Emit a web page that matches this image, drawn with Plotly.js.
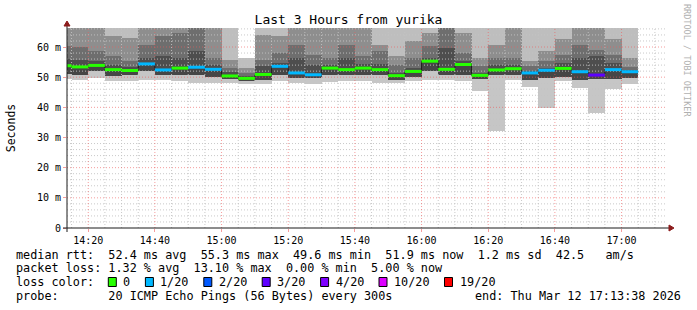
<!DOCTYPE html>
<html><head><meta charset="utf-8">
<script src="https://cdn.plot.ly/plotly-3.0.1.min.js"></script>
<style>html,body{margin:0;padding:0;background:#fff;} #chart{width:697px;height:310px;}</style>
</head><body><div id="chart"></div>
<script>
// ---- data ----
const endTimes = ["2026-03-12 14:15","2026-03-12 14:20","2026-03-12 14:25","2026-03-12 14:30","2026-03-12 14:35",
  "2026-03-12 14:40","2026-03-12 14:45","2026-03-12 14:50","2026-03-12 14:55","2026-03-12 15:00",
  "2026-03-12 15:05","2026-03-12 15:10","2026-03-12 15:15","2026-03-12 15:20","2026-03-12 15:25",
  "2026-03-12 15:30","2026-03-12 15:35","2026-03-12 15:40","2026-03-12 15:45","2026-03-12 15:50",
  "2026-03-12 15:55","2026-03-12 16:00","2026-03-12 16:05","2026-03-12 16:10","2026-03-12 16:15",
  "2026-03-12 16:20","2026-03-12 16:25","2026-03-12 16:30","2026-03-12 16:35","2026-03-12 16:40",
  "2026-03-12 16:45","2026-03-12 16:50","2026-03-12 16:55","2026-03-12 17:00","2026-03-12 17:05"];
const medianRtt = [53.8,53.4,53.9,52.5,52.2,54.4,52.4,53.0,53.3,52.6,50.4,49.6,50.9,53.6,51.4,50.8,53.0,52.5,53.0,52.5,
  50.5,51.9,55.3,52.6,54.2,50.6,52.4,52.8,51.4,52.3,52.9,51.8,50.7,52.5,51.8];
const lossPings = [0,0,0,0,0,1,1,0,1,1,0,0,0,1,1,1,0,0,0,0,0,0,0,0,0,0,0,0,1,1,0,1,2.62,1,1];
const pingMin = [49.3,49.2,49.7,48.8,48.6,49.2,49.2,48.8,48.1,48.1,48.1,47.7,47.8,48.6,48.1,47.8,48.4,48.6,48.8,48.1,
  48.1,48.6,49.2,49.2,48.8,45.5,32.2,49.2,46.9,39.9,48.6,46.4,38.2,46.1,47.7];
const pingQ1 = [51.0,50.8,51.9,50.3,50.8,51.9,50.8,50.8,50.8,50.2,49.4,48.8,49.2,50.8,49.7,49.7,50.8,50.8,50.8,50.8,
  49.2,49.9,52.0,50.8,50.8,49.4,50.8,50.8,49.2,49.7,49.9,49.2,49.4,49.4,49.7];
const pingQ3 = [56.0,55.8,55.3,54.2,53.3,56.4,56.9,56.4,58.6,54.2,51.6,50.3,53.6,54.7,56.4,54.2,54.2,56.4,54.4,54.4,
  51.4,53.0,56.4,59.7,55.3,51.4,54.2,54.2,52.2,53.1,54.7,56.4,56.9,54.7,52.4];
const pingQ4 = [60.5,59.9,58.6,56.9,55.3,60.8,63.6,64.7,70.0,56.4,53.0,51.4,55.8,58.0,60.8,57.5,56.4,60.8,56.9,58.6,
  54.2,56.4,60.2,70.0,58.0,53.6,56.4,56.4,53.6,55.5,57.5,60.8,59.1,57.5,53.3];
const pingQ5 = [72,72,72,63.6,63.0,72,72,72,75,72,55.8,53.0,64.1,63.6,72,72,72,72,72,60.8,
  56.9,61.9,64.7,75,64.7,56.4,60.8,72,55.3,58.6,62.5,72,72,62.5,56.4];
const pingMax = [80,80,80,80,80,80,80,80,80,80,80,56.4,80,80,80,80,80,80,80,80,
  80,80,80,80,80,80,80,80,80,80,80,80,80,80,80];

const yTickVals = [0,10,20,30,40,50,60];
const yTickText = ["0","10 m","20 m","30 m","40 m","50 m","60 m"];
const lossLevels = [0,1,2,3,4,10,19];
const lossLabels = ["0","1/20","2/20","3/20","4/20","10/20","19/20"];
const lossColors = ["#26ff00","#00b8ff","#0059ff","#5e00ff","#7e00ff","#dd00ff","#ff0000"];
const titleText = "Last 3 Hours from yurika";
const yTitle = "Seconds";
const statLine1 = "median rtt:  52.4 ms avg  55.3 ms max  49.6 ms min  51.9 ms now  1.2 ms sd  42.5   am/s";
const statLine2 = "packet loss: 1.32 % avg  13.10 % max  0.00 % min  5.00 % now";
const lossHead = "loss color:";
const probeLine = "probe:       20 ICMP Echo Pings (56 Bytes) every 300s";
const endLine = "end: Thu Mar 12 17:13:38 2026";
const sideText = "RRDTOOL / TOBI OETIKER";

// ---- geometry / style ----
const W = 697, H = 310, ML = 67, MR = 30, MT = 28, MB = 82;
const PW = W - ML - MR, PH = H - MT - MB;
const xStart = "2026-03-12 14:13:38", xEnd = "2026-03-12 17:13:38";
const yTop = 66.3;
const STEP = 300000;
const FONT = "DejaVu Sans Mono";
const px = x => (x - ML) / PW;
const py = y => (H - MB - y) / PH;
const nb = s => s.replace(/ /g, "\u00a0");
const toMs = s => { const m = s.match(/(\d+)-(\d+)-(\d+) (\d+):(\d+)(?::(\d+))?/);
  return Date.UTC(+m[1], +m[2]-1, +m[3], +m[4], +m[5], +(m[6]||0)); };

const traces = [];
// smoke bands
const bands = [
  [pingMin, pingQ1, "#c6c6c6"],
  [pingQ1, medianRtt, "#464646"],
  [medianRtt, pingQ3, "#4e4e4e"],
  [pingQ3, pingQ4, "#6e6e6e"],
  [pingQ4, pingQ5, "#8e8e8e"],
  [pingQ5, pingMax, "#bebebe"]
];
bands.forEach(([lo, hi, c]) => {
  traces.push({type:"bar", x:endTimes, base:lo, y:hi.map((v,i)=>v-lo[i]), width:STEP, offset:-STEP,
    marker:{color:c, line:{width:0}}, hoverinfo:"skip", showlegend:false});
});

// grid lines (drawn above smoke like rrdtool)
const x0 = toMs(xStart), x1 = toMs(xEnd);
const minX = {x:[], y:[]}, majX = {x:[], y:[]}, minY = {x:[], y:[]}, majY = {x:[], y:[]};
for (let t = Math.ceil(x0/STEP)*STEP; t <= x1; t += STEP) {
  const tgt = (t % (4*STEP) === 0) ? majX : minX;
  tgt.x.push(t, t, null); tgt.y.push(0, yTop, null);
}
for (let v = 2; v < yTop; v += 2) {
  const tgt = (v % 10 === 0) ? majY : minY;
  tgt.x.push(x0, x1, null); tgt.y.push(v, v, null);
}
[[minX,"rgba(195,195,195,0.9)"],[minY,"rgba(195,195,195,0.9)"],[majX,"rgba(240,90,90,0.6)"],[majY,"rgba(240,90,90,0.6)"]].forEach(([g,c])=>{
  traces.push({type:"scatter", mode:"lines", x:g.x, y:g.y, line:{color:c, width:1, dash:"1px,2px"},
    hoverinfo:"skip", showlegend:false, connectgaps:false});
});

// median step line (dark) + loss-coloured median
const startMs = endTimes.map(s => toMs(s) - STEP);
traces.push({type:"scatter", mode:"lines", x:startMs.concat([toMs(endTimes[endTimes.length-1])]),
  y:medianRtt.concat([medianRtt[medianRtt.length-1]]), line:{shape:"hv", color:"#1e1e1e", width:1},
  hoverinfo:"skip", showlegend:false});
const lossBin = l => { let prev = -Infinity; for (let k = 0; k < lossLevels.length; k++) { if (l > prev && l <= lossLevels[k]) return k; prev = lossLevels[k]; } return lossLevels.length-1; };
lossColors.forEach((c, k) => {
  const xs = [], ys = [];
  medianRtt.forEach((m, i) => { if (lossBin(lossPings[i]) === k) { xs.push(startMs[i], startMs[i]+STEP, null); ys.push(m, m, null); } });
  if (xs.length) traces.push({type:"scatter", mode:"lines", x:xs, y:ys, line:{color:c, width:3},
    hoverinfo:"skip", showlegend:false});
});

// ---- shapes: axes, arrows, legend boxes ----
const shapes = [];
const axisCol = "#1a1a1a", arrowCol = "#8c1c1c";
shapes.push({type:"line", xref:"paper", yref:"paper", x0:px(63), x1:px(669), y0:py(228), y1:py(228), line:{color:axisCol, width:1}});
shapes.push({type:"line", xref:"paper", yref:"paper", x0:px(67), x1:px(67), y0:py(232), y1:py(26), line:{color:axisCol, width:1}});
shapes.push({type:"path", xref:"paper", yref:"paper", path:`M ${px(64)} ${py(26)} L ${px(70)} ${py(26)} L ${px(67)} ${py(21)} Z`, fillcolor:arrowCol, line:{color:arrowCol, width:1}});
shapes.push({type:"path", xref:"paper", yref:"paper", path:`M ${px(669)} ${py(225)} L ${px(669)} ${py(231)} L ${px(674)} ${py(228)} Z`, fillcolor:arrowCol, line:{color:arrowCol, width:1}});

const CW = 7.1, LX = 16;
const rowY = [254.5, 268, 282, 295.5];
const annFont = {family:FONT, size:11.8, color:"#000"};
const annotations = [];
function textAt(s, x, y, anchor) {
  annotations.push({text:nb(s), xref:"paper", yref:"paper", x:px(x), y:py(y), xanchor:anchor||"left", yanchor:"middle",
    showarrow:false, font:annFont, borderpad:0, borderwidth:0});
}
textAt(statLine1, LX, rowY[0]);
textAt(statLine2, LX, rowY[1]);
textAt(lossHead, LX, rowY[2]);
let bx = LX + 13*CW;
lossLabels.forEach((lab, k) => {
  shapes.push({type:"rect", xref:"paper", yref:"paper", x0:px(bx), x1:px(bx+8), y0:py(rowY[2]+4.5), y1:py(rowY[2]-4.5),
    fillcolor:lossColors[k], line:{color:"#000", width:1}});
  const lx = bx + 15;
  textAt(lab, lx, rowY[2]);
  bx = lx + lab.length*CW + 15;
});
textAt(probeLine, LX, rowY[3]);
textAt(endLine, 681, rowY[3], "right");
annotations.push({text:nb(sideText), xref:"paper", yref:"paper", x:px(687), y:py(60), xanchor:"center", yanchor:"middle",
  textangle:90, showarrow:false, font:{family:FONT, size:8.5, color:"#b0b0b0"}});

const layout = {
  width:W, height:H, margin:{l:ML, r:MR, t:MT, b:MB, pad:0},
  paper_bgcolor:"#fff", plot_bgcolor:"#fff", showlegend:false,
  barmode:"overlay", bargap:0,
  title:{text:titleText, font:{family:FONT, size:13, color:"#000"}, x:0.5, xanchor:"center", xref:"container",
    y:1-19/H, yanchor:"middle", yref:"container"},
  xaxis:{type:"date", range:[xStart, xEnd], tickformat:"%H:%M", dtick:4*STEP, tick0:"2026-03-12 14:00",
    showgrid:false, zeroline:false, showline:false, ticks:"outside", ticklen:3, tickcolor:"rgba(240,90,90,0.6)",
    tickfont:{family:FONT, size:10, color:"#000"}, automargin:false, fixedrange:true},
  yaxis:{range:[0, yTop], tickmode:"array", tickvals:yTickVals, ticktext:yTickText, showgrid:false, zeroline:false,
    showline:false, ticks:"outside", ticklen:3, tickcolor:"rgba(240,90,90,0.6)",
    tickfont:{family:FONT, size:10, color:"#000"}, automargin:false, fixedrange:true,
    title:{text:yTitle, font:{family:FONT, size:11.5, color:"#000"}, standoff:18}},
  shapes:shapes, annotations:annotations
};
Plotly.newPlot("chart", traces, layout, {displayModeBar:false, staticPlot:true});
</script></body></html>
